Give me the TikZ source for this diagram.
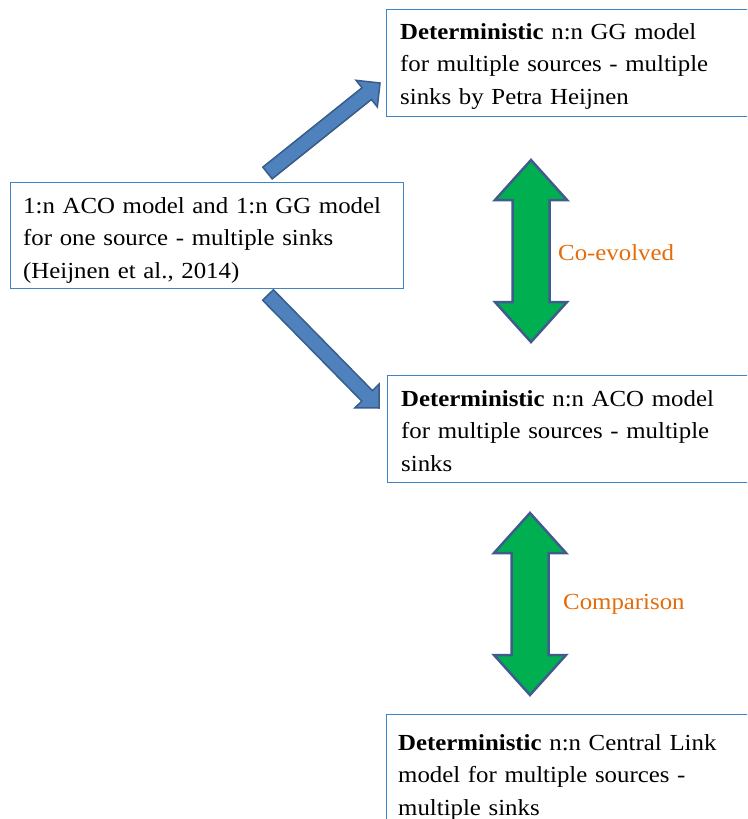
\documentclass[tikz,border=0pt]{standalone}
\usepackage{fontspec}
\setmainfont[FakeStretch=1.08]{Liberation Serif}
\usetikzlibrary{calc}

\definecolor{boxblue}{HTML}{3D85C6}
\definecolor{arrowfill}{HTML}{4F81BD}
\definecolor{arrowline}{HTML}{385D8A}
\definecolor{greenfill}{HTML}{00B050}
\definecolor{greenline}{HTML}{3F5C8C}
\definecolor{labelorange}{HTML}{E46C0A}

% single block arrow from tail #1 to tip #2
\newcommand\blockarrow[2]{%
  \coordinate (ba-head) at ($(#2)!17pt!(#1)$);
  \filldraw[bluearrow]
    ($(#1)!7.5pt!90:(#2)$) -- ($(ba-head)!7.5pt!90:(#2)$) --
    ($(ba-head)!17pt!90:(#2)$) -- (#2) --
    ($(ba-head)!17pt!-90:(#2)$) -- ($(ba-head)!7.5pt!-90:(#2)$) --
    ($(#1)!7.5pt!-90:(#2)$) -- cycle;}

% vertical double block arrow between top tip #1 and bottom tip #2
\newcommand\dblarrow[2]{%
  \filldraw[greenarrow]
    (#1) -- ($(#1)+(36,40)$) -- ($(#1)+(18.5,40)$) --
    ($(#2)+(18.5,-40)$) -- ($(#2)+(36,-40)$) -- (#2) --
    ($(#2)+(-36,-40)$) -- ($(#2)+(-18.5,-40)$) --
    ($(#1)+(-18.5,40)$) -- ($(#1)+(-36,40)$) -- cycle;}

\begin{document}
\begin{tikzpicture}[x=1pt,y=-1pt,
  box/.style={draw=boxblue, line width=1.3pt, anchor=north west, inner sep=0pt},
  txt/.style={anchor=base west, inner sep=0pt, align=left, text width=365pt,
              font=\fontsize{23}{32.5}\selectfont},
  bluearrow/.style={fill=arrowfill, draw=arrowline, line width=1.5pt, line join=miter},
  greenarrow/.style={fill=greenfill, draw=greenline, line width=2.5pt, line join=miter},
  lbl/.style={anchor=base west, inner sep=0pt, text=labelorange,
              font=\fontsize{23}{28}\selectfont}]

\clip (0,0) rectangle (747,819);
\fill[white] (0,0) rectangle (747,819);

% boxes
\node[box, minimum width=393pt, minimum height=106pt] (src) at (10,182) {};
\node[box, minimum width=380pt, minimum height=107pt] (gg)  at (386,9) {};
\node[box, minimum width=380pt, minimum height=107pt] (aco) at (387,375) {};
\node[box, minimum width=380pt, minimum height=130pt] (cl)  at (386,714) {};

% box texts
\node[txt] (srctext) at ($(src.north west)+(13,31)$)
  {1:n ACO model and 1:n GG model\\for one source - multiple sinks\\(Heijnen et al., 2014)};
\node[txt] (ggtext) at ($(gg.north west)+(14,30)$)
  {\textbf{Deterministic} n:n GG model\\for multiple sources - multiple\\sinks by Petra Heijnen};
\node[txt] (acotext) at ($(aco.north west)+(14,31)$)
  {\textbf{Deterministic} n:n ACO model\\for multiple sources - multiple\\sinks};
\node[txt] (cltext) at ($(cl.north west)+(12,36)$)
  {\textbf{Deterministic} n:n Central Link\\model for multiple sources -\\multiple sinks};

% blue arrows from the source box
\coordinate (up-tail) at (267.5,173);
\coordinate (up-tip) at (380,83);
\coordinate (dn-tail) at (268,295);
\coordinate (dn-tip) at (379,408);
\blockarrow{up-tail}{up-tip}
\blockarrow{dn-tail}{dn-tip}

% green double arrows
\coordinate (ce-top) at (531,160);
\coordinate (ce-bot) at (531,342);
\coordinate (cp-top) at (530,513);
\coordinate (cp-bot) at (530,695);
\dblarrow{ce-top}{ce-bot}
\dblarrow{cp-top}{cp-bot}

% labels
\node[lbl] (coevolved) at (558,260) {Co-evolved};
\node[lbl] (comparison) at (563,609) {Comparison};

\end{tikzpicture}
\end{document}
